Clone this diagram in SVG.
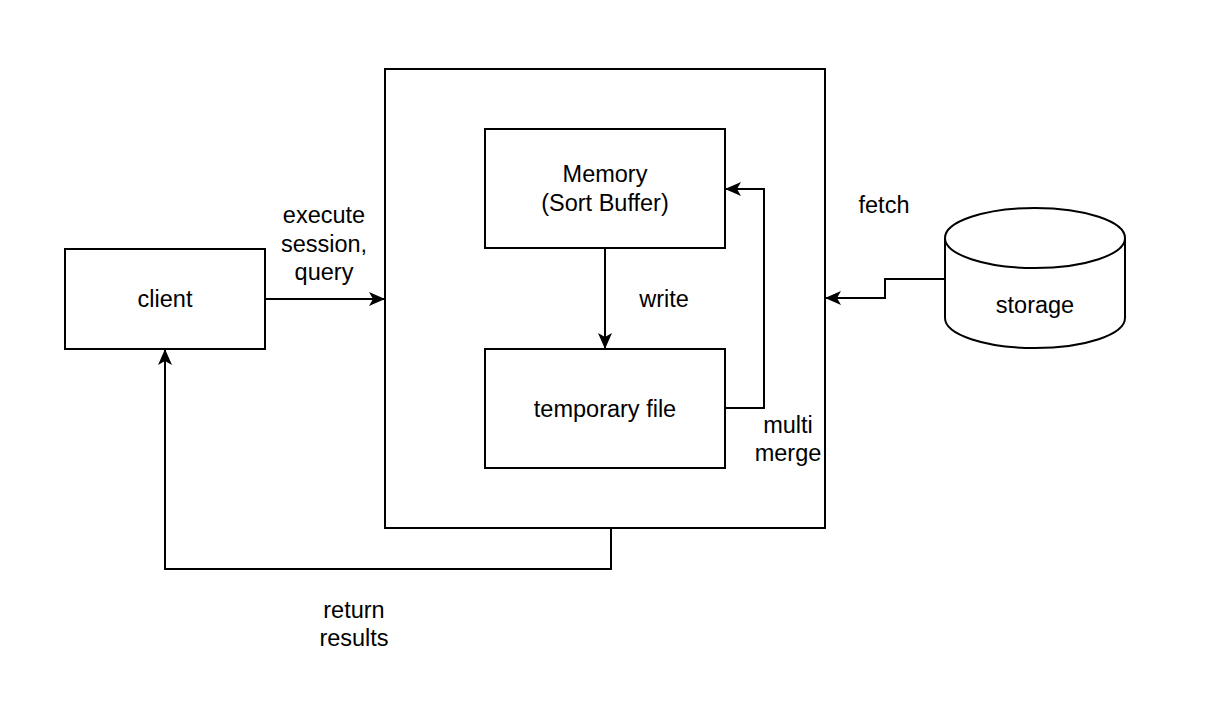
<svg xmlns="http://www.w3.org/2000/svg" width="1214" height="714" viewBox="0 0 1214 714">
<defs>
<style>
.box{fill:#fff;stroke:#000;stroke-width:2}
.ln{fill:none;stroke:#000;stroke-width:2}
text{font-family:"Liberation Sans",Arial,sans-serif;font-size:23.5px;fill:#000;text-anchor:middle}
</style>
<marker id="arr" viewBox="0 0 16 16" refX="15" refY="8" markerWidth="16" markerHeight="16" markerUnits="userSpaceOnUse" orient="auto">
<path d="M0,1 L16,8 L0,15 L4,8 Z" fill="#000"/>
</marker>
</defs>
<rect width="1214" height="714" fill="#fff"/>
<g id="outer"><rect class="box" x="385" y="69" width="440" height="459"/></g>
<g id="memory"><rect class="box" x="485" y="129" width="240" height="119"/>
<text x="605" y="182">Memory</text><text x="605" y="211">(Sort Buffer)</text></g>
<g id="tempfile"><rect class="box" x="485" y="349" width="240" height="119"/>
<text x="605" y="417">temporary file</text></g>
<g id="client"><rect class="box" x="65" y="249" width="200" height="100"/>
<text x="165" y="307">client</text></g>
<g id="storage">
<path class="box" d="M945,238 A90,30 0 0 1 1125,238 L1125,318 A90,30 0 0 1 945,318 Z"/>
<path class="ln" d="M945,238 A90,30 0 0 0 1125,238"/>
<text x="1035" y="313">storage</text></g>
<g id="connectors">
<path class="ln" d="M265,299 L384,299" marker-end="url(#arr)"/>
<path class="ln" d="M605,248 L605,348" marker-end="url(#arr)"/>
<path class="ln" d="M725,408 L764,408 L764,189 L726,189" marker-end="url(#arr)"/>
<path class="ln" d="M945,279 L885,279 L885,298 L826,298" marker-end="url(#arr)"/>
<path class="ln" d="M611,528 L611,569 L165,569 L165,350" marker-end="url(#arr)"/>
</g>
<g id="labels">
<text x="324" y="223">execute</text><text x="324" y="252">session,</text><text x="324" y="280">query</text>
<text x="664" y="307">write</text>
<text x="884" y="213">fetch</text>
<text x="788" y="433">multi</text><text x="788" y="461">merge</text>
<text x="354" y="618">return</text><text x="354" y="646">results</text>
</g>
</svg>
